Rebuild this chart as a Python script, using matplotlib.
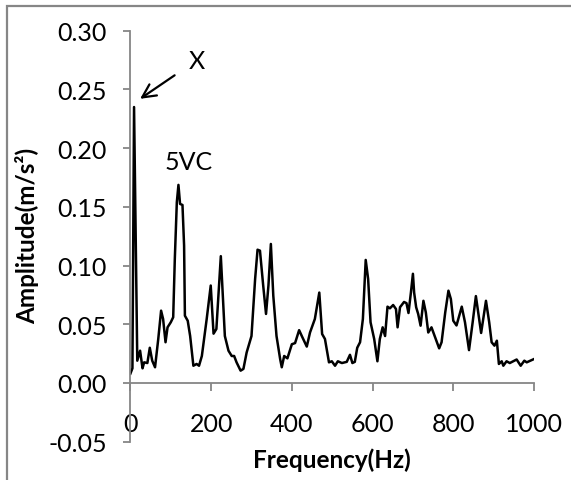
import numpy as np
import matplotlib.pyplot as plt
from matplotlib.patches import Rectangle

# frequency spectrum
freq = [0, 5, 9, 17, 24, 30, 34, 42, 48, 54, 61, 69, 76, 81, 87, 92, 100, 106,
        110, 115, 119, 123, 129, 133, 135, 142, 148, 156, 164, 170, 177, 189,
        199, 206, 213, 224, 234, 243, 251, 257, 263, 273, 280, 288, 300, 309,
        315, 321, 329, 336, 342, 348, 354, 362, 371, 375, 381, 389, 400, 408,
        418, 426, 437, 445, 457, 468, 475, 482, 492, 499, 507, 514, 524, 536,
        544, 550, 556, 562, 569, 576, 583, 589, 595, 604, 612, 618, 625, 631,
        637, 643, 651, 658, 662, 668, 678, 684, 689, 695, 700, 703, 708, 713,
        719, 726, 732, 738, 746, 755, 765, 771, 780, 788, 794, 800, 808, 821,
        829, 839, 848, 856, 869, 881, 889, 895, 902, 908, 913, 920, 924, 932,
        940, 957, 967, 976, 982, 1000]
amp = [0.008, 0.0125, 0.235, 0.019, 0.0275, 0.0125, 0.0176, 0.017, 0.030,
       0.019, 0.0134, 0.0375, 0.0616, 0.0545, 0.0347, 0.0474, 0.0517, 0.056,
       0.1056, 0.154, 0.1687, 0.1525, 0.1516, 0.117, 0.0573, 0.053, 0.040,
       0.0147, 0.0162, 0.0147, 0.023, 0.0545, 0.083, 0.042, 0.046, 0.108,
       0.040, 0.0275, 0.023, 0.023, 0.0176, 0.0105, 0.012, 0.026, 0.040,
       0.0886, 0.1135, 0.1127, 0.083, 0.0588, 0.083, 0.1184, 0.0744, 0.040,
       0.0204, 0.0134, 0.023, 0.021, 0.033, 0.034, 0.045, 0.039, 0.031, 0.043,
       0.0545, 0.077, 0.0417, 0.0375, 0.0176, 0.0185, 0.0147, 0.0185, 0.017,
       0.018, 0.024, 0.017, 0.018, 0.030, 0.0347, 0.0545, 0.1048, 0.0886,
       0.0517, 0.0375, 0.0185, 0.0375, 0.0474, 0.040, 0.065, 0.0636, 0.0664,
       0.063, 0.0474, 0.0645, 0.069, 0.068, 0.0596, 0.077, 0.093, 0.077,
       0.0645, 0.0588, 0.0488, 0.070, 0.060, 0.043, 0.0474, 0.039, 0.0295,
       0.0347, 0.060, 0.0786, 0.0715, 0.053, 0.049, 0.065, 0.0517, 0.028,
       0.0517, 0.074, 0.0426, 0.070, 0.0517, 0.0347, 0.0318, 0.036, 0.0162,
       0.0185, 0.0147, 0.0185, 0.017, 0.020, 0.0147, 0.019, 0.0176, 0.0204]

xticks = [0, 200, 400, 600, 800, 1000]
yticks = [-0.05, 0.00, 0.05, 0.10, 0.15, 0.20, 0.25, 0.30]

plt.rcParams['font.family'] = ['Lato', 'DejaVu Sans']
grey = '#868686'

fig = plt.figure(figsize=(5.71, 4.81), dpi=100)
# chart border, cut off at right and bottom like the original
fig.patches.append(Rectangle((7 / 571, -0.1), 1.2, (474 + 48) / 481,
                             transform=fig.transFigure, fill=False,
                             edgecolor=grey, linewidth=1.6))

ax = fig.add_axes([0.2284, 0.0796, 0.7068, 0.8545])
ax.plot(freq, amp, color='black', linewidth=1.8)

ax.set_xlim(0, 1000)
ax.set_ylim(-0.05, 0.30)
ax.set_xticks(xticks)
ax.set_yticks(yticks)
ax.set_yticklabels(['{:.2f}'.format(v) for v in yticks])

ax.spines['top'].set_visible(False)
ax.spines['right'].set_visible(False)
ax.spines['bottom'].set_position(('data', 0))
for s in ['left', 'bottom']:
    ax.spines[s].set_color(grey)
    ax.spines[s].set_linewidth(1.3)
ax.tick_params(axis='x', direction='out', length=6, width=1.3, color=grey,
               pad=15, labelsize=18)
ax.tick_params(axis='y', direction='out', length=5, width=1.3, color=grey,
               pad=12, labelsize=18)

fig.text(27 / 571, (481 - 236) / 481, 'Amplitude(m/s²)', rotation=90,
         ha='center', va='center', fontsize=17.5, fontweight='bold')
fig.text(332 / 571, (481 - 460) / 481, 'Frequency(Hz)', ha='center',
         va='center', fontsize=17.5, fontweight='bold')

ax.text(143, 0.179, '5VC', ha='center', va='bottom', fontsize=18)
ax.annotate('X', xy=(24, 0.242), xytext=(165, 0.275), fontsize=18,
            ha='center', va='center',
            arrowprops=dict(arrowstyle='->', color='black', lw=1.6,
                            mutation_scale=24, shrinkA=10, shrinkB=0))

plt.savefig('out.png', dpi=100)
